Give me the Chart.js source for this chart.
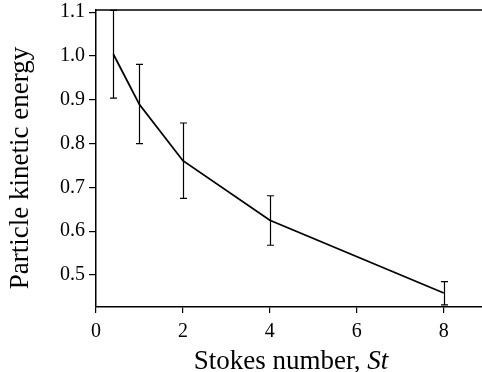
<!DOCTYPE html>
<html>
<head>
<meta charset="utf-8">
<script src="https://cdn.jsdelivr.net/npm/chart.js@4.4.1/dist/chart.umd.min.js"></script>
<style>
  html, body { margin: 0; padding: 0; background: #fff; }
  #wrap { width: 482px; height: 372px; }
</style>
</head>
<body>
<div id="wrap"><canvas id="chart" width="482" height="372"></canvas></div>
<script>
// valori
const stokes = [0.4, 1, 2, 4, 8];
const energy = [1.004, 0.889, 0.761, 0.625, 0.459];
const errHigh = [1.104, 0.981, 0.847, 0.681, 0.485];
const errLow = [0.904, 0.800, 0.675, 0.568, 0.432];
const xTicks = [0, 2, 4, 6, 8];
const yTicks = [0.5, 0.6, 0.7, 0.8, 0.9, 1.0, 1.1];

const serif = "'Liberation Serif', 'Times New Roman', serif";

// barre d'errore e titoli disegnati a mano
const errorBars = {
    id: "errorBars",
    afterDatasetsDraw(chart) {
        const ctx = chart.ctx;
        const x = chart.scales.x;
        const y = chart.scales.y;
        ctx.save();
        ctx.strokeStyle = "#000";
        ctx.lineWidth = 1.2;
        stokes.forEach((s, i) => {
            const px = Math.round(x.getPixelForValue(s)) + 0.5;
            const top = y.getPixelForValue(errHigh[i]);
            const bot = y.getPixelForValue(errLow[i]);
            ctx.beginPath();
            ctx.moveTo(px, top);
            ctx.lineTo(px, bot);
            ctx.moveTo(px - 3.5, top);
            ctx.lineTo(px + 3.5, top);
            ctx.moveTo(px - 3.5, bot);
            ctx.lineTo(px + 3.5, bot);
            ctx.stroke();
        });
        // linea superiore del riquadro
        const area = chart.chartArea;
        ctx.lineWidth = 1.5;
        ctx.beginPath();
        ctx.moveTo(area.left, area.top);
        ctx.lineTo(area.right, area.top);
        ctx.stroke();

        // titoli degli assi
        ctx.fillStyle = "#000";
        ctx.textBaseline = "alphabetic";
        const part1 = "Stokes number, ";
        const part2 = "St";
        ctx.font = "27px " + serif;
        const w1 = ctx.measureText(part1).width;
        ctx.font = "italic 27px " + serif;
        const w2 = ctx.measureText(part2).width;
        let sx = 291 - (w1 + w2) / 2;
        ctx.font = "27px " + serif;
        ctx.textAlign = "left";
        ctx.fillText(part1, sx, 369);
        ctx.font = "italic 27px " + serif;
        ctx.fillText(part2, sx + w1, 369);

        ctx.translate(28, 168);
        ctx.rotate(-Math.PI / 2);
        ctx.font = "27px " + serif;
        ctx.textAlign = "center";
        ctx.fillText("Particle kinetic energy", 0, 0);
        ctx.restore();
    }
};

new Chart(document.getElementById("chart"), {
    type: "line",
    data: {
        datasets: [{
            data: stokes.map((s, i) => ({ x: s, y: energy[i] })),
            borderColor: "#000",
            borderWidth: 1.8,
            pointRadius: 0,
            tension: 0,
            fill: false
        }]
    },
    options: {
        responsive: false,
        animation: false,
        layout: { padding: { top: 10, right: 0, left: 0, bottom: 0 } },
        plugins: { legend: { display: false }, tooltip: { enabled: false } },
        scales: {
            x: {
                type: "linear",
                min: 0,
                max: 8.88,
                afterBuildTicks: (axis) => { axis.ticks = xTicks.map(v => ({ value: v })); },
                afterFit: (axis) => {
                    axis.height = 65;
                    axis.paddingLeft = 0;
                    axis.paddingRight = 0;
                },
                grid: { drawOnChartArea: false, drawTicks: true, tickLength: 6, color: "#000", lineWidth: 1.2 },
                border: { display: true, color: "#000", width: 1.5 },
                ticks: { color: "#000", font: { family: serif, size: 20 }, padding: 7, maxRotation: 0 }
            },
            y: {
                min: 0.427,
                max: 1.105,
                afterBuildTicks: (axis) => { axis.ticks = yTicks.map(v => ({ value: v })); },
                afterFit: (axis) => {
                    axis.width = 96;
                    axis.paddingTop = 0;
                    axis.paddingBottom = 0;
                },
                grid: { drawOnChartArea: false, drawTicks: true, tickLength: 7, color: "#000", lineWidth: 1.2 },
                border: { display: true, color: "#000", width: 1.5 },
                ticks: { color: "#000", font: { family: serif, size: 20 }, padding: 4, callback: (v) => v.toFixed(1) }
            }
        }
    },
    plugins: [errorBars]
});
</script>
</body>
</html>
